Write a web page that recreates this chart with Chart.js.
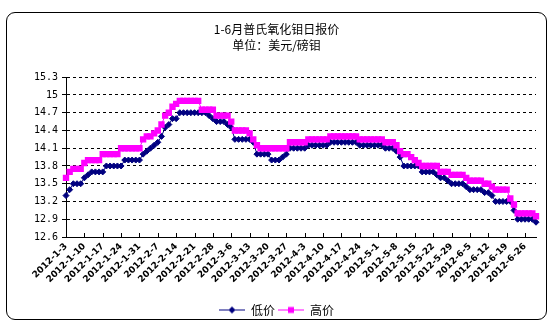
<!DOCTYPE html>
<html>
<head>
<meta charset="utf-8">
<script src="https://cdn.jsdelivr.net/npm/chart.js@4.4.0/dist/chart.umd.min.js"></script>
<style>
  html, body { margin: 0; padding: 0; background: #fff; }
  #wrap { position: relative; width: 553px; height: 326px; }
  #frame {
    position: absolute; left: 6px; top: 12px; width: 541px; height: 308px;
    border: 1px solid #000; border-radius: 9px; box-sizing: border-box;
  }
  #chart { position: absolute; left: 0; top: 0; }
</style>
</head>
<body>
<div id="wrap">
  <div id="frame"></div>
  <canvas id="chart" width="553" height="326"></canvas>
</div>
<script>
// trading days, Jan 3 - Jun 29 2012
const days = [
  '2012-1-3', '2012-1-4', '2012-1-5', '2012-1-6',
  '2012-1-9', '2012-1-10', '2012-1-11', '2012-1-12', '2012-1-13',
  '2012-1-16', '2012-1-17', '2012-1-18', '2012-1-19', '2012-1-20',
  '2012-1-23', '2012-1-24', '2012-1-25', '2012-1-26', '2012-1-27',
  '2012-1-30', '2012-1-31', '2012-2-1', '2012-2-2', '2012-2-3',
  '2012-2-6', '2012-2-7', '2012-2-8', '2012-2-9', '2012-2-10',
  '2012-2-13', '2012-2-14', '2012-2-15', '2012-2-16', '2012-2-17',
  '2012-2-20', '2012-2-21', '2012-2-22', '2012-2-23', '2012-2-24',
  '2012-2-27', '2012-2-28', '2012-2-29', '2012-3-1', '2012-3-2',
  '2012-3-5', '2012-3-6', '2012-3-7', '2012-3-8', '2012-3-9',
  '2012-3-12', '2012-3-13', '2012-3-14', '2012-3-15', '2012-3-16',
  '2012-3-19', '2012-3-20', '2012-3-21', '2012-3-22', '2012-3-23',
  '2012-3-26', '2012-3-27', '2012-3-28', '2012-3-29', '2012-3-30',
  '2012-4-2', '2012-4-3', '2012-4-4', '2012-4-5', '2012-4-6',
  '2012-4-9', '2012-4-10', '2012-4-11', '2012-4-12', '2012-4-13',
  '2012-4-16', '2012-4-17', '2012-4-18', '2012-4-19', '2012-4-20',
  '2012-4-23', '2012-4-24', '2012-4-25', '2012-4-26', '2012-4-27',
  '2012-4-30', '2012-5-1', '2012-5-2', '2012-5-3', '2012-5-4',
  '2012-5-7', '2012-5-8', '2012-5-9', '2012-5-10', '2012-5-11',
  '2012-5-14', '2012-5-15', '2012-5-16', '2012-5-17', '2012-5-18',
  '2012-5-21', '2012-5-22', '2012-5-23', '2012-5-24', '2012-5-25',
  '2012-5-28', '2012-5-29', '2012-5-30', '2012-5-31', '2012-6-1',
  '2012-6-4', '2012-6-5', '2012-6-6', '2012-6-7', '2012-6-8',
  '2012-6-11', '2012-6-12', '2012-6-13', '2012-6-14', '2012-6-15',
  '2012-6-18', '2012-6-19', '2012-6-20', '2012-6-21', '2012-6-22',
  '2012-6-25', '2012-6-26', '2012-6-27', '2012-6-28', '2012-6-29'
];

// 低价 (low quote), USD/lb Mo
const lowPrice = [
  13.3, 13.4, 13.5, 13.5,
  13.5, 13.6, 13.65, 13.7, 13.7,
  13.7, 13.7, 13.8, 13.8, 13.8,
  13.8, 13.8, 13.9, 13.9, 13.9,
  13.9, 13.9, 14.0, 14.05, 14.1,
  14.15, 14.2, 14.3, 14.45, 14.5,
  14.6, 14.6, 14.7, 14.7, 14.7,
  14.7, 14.7, 14.7, 14.7, 14.7,
  14.65, 14.6, 14.55, 14.55, 14.55,
  14.5, 14.45, 14.25, 14.25, 14.25,
  14.25, 14.25, 14.2, 14.0, 14.0,
  14.0, 14.0, 13.9, 13.9, 13.9,
  13.95, 14.0, 14.1, 14.1, 14.1,
  14.1, 14.1, 14.15, 14.15, 14.15,
  14.15, 14.15, 14.15, 14.2, 14.2,
  14.2, 14.2, 14.2, 14.2, 14.2,
  14.2, 14.15, 14.15, 14.15, 14.15,
  14.15, 14.15, 14.15, 14.1, 14.1,
  14.1, 14.05, 13.95, 13.8, 13.8,
  13.8, 13.8, 13.8, 13.7, 13.7,
  13.7, 13.7, 13.65, 13.6, 13.6,
  13.55, 13.5, 13.5, 13.5, 13.5,
  13.45, 13.4, 13.4, 13.4, 13.4,
  13.35, 13.35, 13.3, 13.2, 13.2,
  13.2, 13.2, 13.2, 13.05, 12.9,
  12.9, 12.9, 12.9, 12.9, 12.85
];

// 高价 (high quote)
const highPrice = [
  13.6, 13.7, 13.75, 13.75,
  13.75, 13.85, 13.9, 13.9, 13.9,
  13.9, 14.0, 14.0, 14.0, 14.0,
  14.0, 14.1, 14.1, 14.1, 14.1,
  14.1, 14.1, 14.25, 14.3, 14.3,
  14.35, 14.4, 14.5, 14.65, 14.7,
  14.8, 14.85, 14.9, 14.9, 14.9,
  14.9, 14.9, 14.9, 14.75, 14.75,
  14.75, 14.75, 14.65, 14.65, 14.65,
  14.65, 14.55, 14.4, 14.4, 14.4,
  14.4, 14.35, 14.25, 14.15, 14.1,
  14.1, 14.1, 14.1, 14.1, 14.1,
  14.1, 14.1, 14.2, 14.2, 14.2,
  14.2, 14.2, 14.25, 14.25, 14.25,
  14.25, 14.25, 14.25, 14.3, 14.3,
  14.3, 14.3, 14.3, 14.3, 14.3,
  14.3, 14.25, 14.25, 14.25, 14.25,
  14.25, 14.25, 14.25, 14.2, 14.2,
  14.2, 14.15, 14.05, 14.0, 14.0,
  13.95, 13.9, 13.85, 13.8, 13.8,
  13.8, 13.8, 13.8, 13.7, 13.7,
  13.7, 13.65, 13.65, 13.65, 13.65,
  13.6, 13.55, 13.55, 13.55, 13.55,
  13.5, 13.5, 13.45, 13.4, 13.4,
  13.4, 13.4, 13.25, 13.15, 13.0,
  13.0, 13.0, 13.0, 13.0, 12.95
];

const yTicks = [12.6, 12.9, 13.2, 13.5, 13.8, 14.1, 14.4, 14.7, 15.0, 15.3];
const labelEvery = 5; // one date label per week

const LOW_COLOR = '#000080';
const HIGH_COLOR = '#ff00ff';

// small line+marker swatches for the legend
function swatch(color, shape) {
  const c = document.createElement('canvas');
  c.width = 26; c.height = 9;
  const g = c.getContext('2d');
  g.strokeStyle = color; g.fillStyle = color; g.lineWidth = 1;
  g.beginPath(); g.moveTo(0, 4.5); g.lineTo(26, 4.5); g.stroke();
  g.beginPath();
  if (shape === 'diamond') {
    g.moveTo(13, 1); g.lineTo(16.5, 4.5); g.lineTo(13, 8); g.lineTo(9.5, 4.5);
  } else {
    g.rect(10, 1.5, 6, 6);
  }
  g.fill();
  return c;
}
const legendSwatches = [swatch(LOW_COLOR, 'diamond'), swatch(HIGH_COLOR, 'square')];

// tick marks pointing up into the plot, one per week
const innerTicks = {
  id: 'innerTicks',
  afterDatasetsDraw(chart) {
    const x = chart.scales.x;
    const ctx = chart.ctx;
    ctx.save();
    ctx.strokeStyle = '#000';
    ctx.lineWidth = 1;
    ctx.beginPath();
    for (let i = 0; i < days.length; i += labelEvery) {
      const px = Math.round(x.getPixelForValue(i)) + 0.5;
      ctx.moveTo(px, x.top);
      ctx.lineTo(px, x.top - 4);
    }
    ctx.stroke();
    ctx.restore();
  }
};

new Chart(document.getElementById('chart'), {
  type: 'line',
  data: {
    labels: days,
    datasets: [
      {
        label: '低价',
        data: lowPrice,
        borderColor: LOW_COLOR,
        backgroundColor: LOW_COLOR,
        borderWidth: 1,
        pointStyle: 'rectRot',
        pointRadius: 3,
        pointBorderWidth: 1,
        tension: 0,
        order: 1
      },
      {
        label: '高价',
        data: highPrice,
        borderColor: HIGH_COLOR,
        backgroundColor: HIGH_COLOR,
        borderWidth: 1,
        pointStyle: 'rect',
        pointRadius: 4.5,
        pointBorderWidth: 0,
        tension: 0,
        order: 0
      }
    ]
  },
  options: {
    responsive: false,
    animation: false,
    layout: { padding: { top: 16, left: 6, right: 6, bottom: 0 } },
    plugins: {
      tooltip: { enabled: false },
      title: {
        display: true,
        text: ['1-6月普氏氧化钼日报价', '单位：美元/磅钼'],
        color: '#000',
        font: { family: '"Noto Sans CJK SC", sans-serif', size: 12, weight: 'normal', lineHeight: 1.3 },
        padding: { top: 6, bottom: 24 }
      },
      legend: {
        position: 'bottom',
        labels: {
          color: '#000',
          font: { family: '"Noto Sans CJK SC", sans-serif', size: 12 },
          usePointStyle: true,
          pointStyleWidth: 26,
          padding: 3,
          sort: (a, b) => a.datasetIndex - b.datasetIndex,
          generateLabels(chart) {
            const items = Chart.defaults.plugins.legend.labels.generateLabels(chart);
            items.forEach(it => { it.pointStyle = legendSwatches[it.datasetIndex]; });
            return items;
          }
        }
      }
    },
    scales: {
      x: {
        type: 'category',
        offset: false,
        grid: { display: false, drawTicks: false },
        border: { display: true, color: '#000', width: 1 },
        ticks: {
          autoSkip: false,
          maxRotation: 45,
          minRotation: 45,
          padding: 4,
          color: '#000',
          font: { family: '"DejaVu Sans", sans-serif', size: 9, weight: 'bold' },
          callback(value, index) {
            return index % labelEvery === 0 ? days[index] : null;
          }
        },
        afterFit(scale) {
          scale.height = 64;
        }
      },
      y: {
        min: 12.6,
        max: 15.3,
        afterBuildTicks(axis) {
          axis.ticks = yTicks.map(v => ({ value: v }));
        },
        grid: {
          color: '#000',
          lineWidth: 1,
          tickLength: 4,
          tickColor: '#000',
          tickBorderDash: []
        },
        border: { display: true, color: '#000', width: 1, dash: [3, 3] },
        ticks: {
          color: '#000',
          padding: 4,
          font: { family: '"DejaVu Sans Mono", monospace', size: 10 },
          callback(value) {
            return String(Number(value.toFixed(1)));
          }
        },
        afterFit(scale) {
          scale.width = 60;
        }
      },
      // empty strip that keeps the plot clear of the right-hand frame
      gap: {
        type: 'linear',
        position: 'right',
        grid: { display: false, drawTicks: false },
        border: { display: false },
        ticks: { display: false },
        afterFit(scale) {
          scale.width = 11;
        }
      }
    }
  },
  plugins: [innerTicks]
});
</script>
</body>
</html>
